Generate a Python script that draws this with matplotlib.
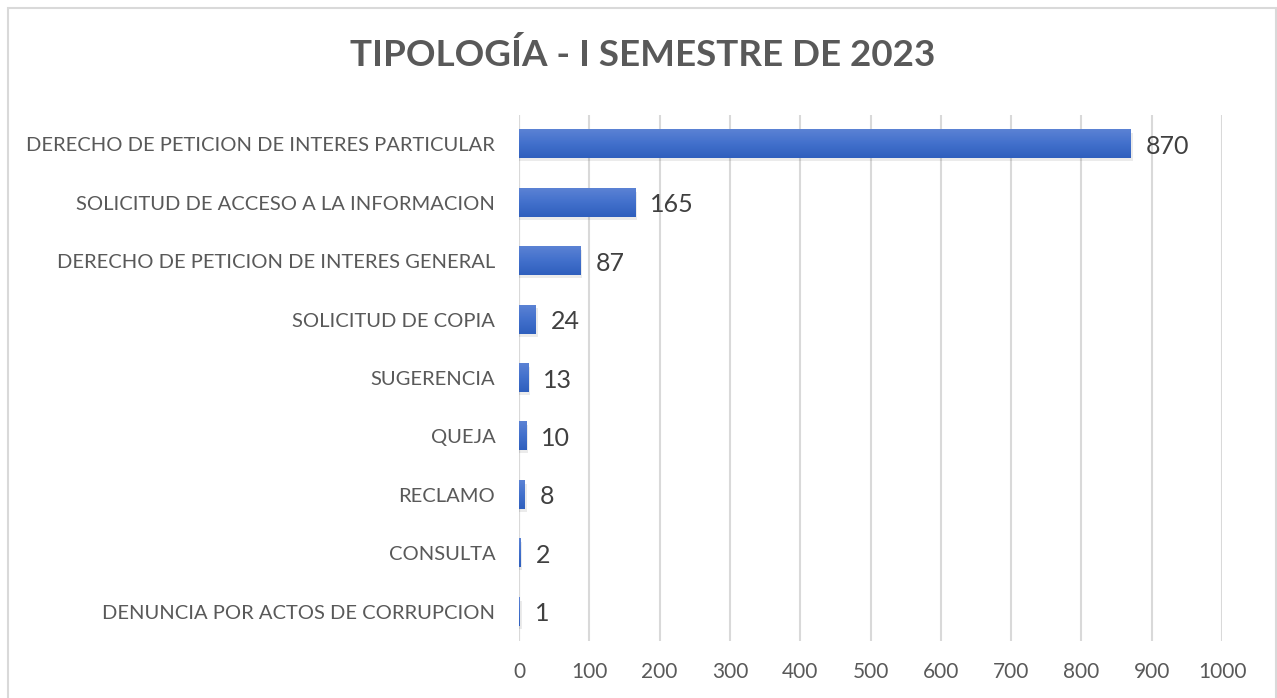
import matplotlib
matplotlib.use("Agg")
import matplotlib.pyplot as plt
import numpy as np
from matplotlib.colors import LinearSegmentedColormap
from matplotlib.patches import Rectangle

categories = [
    "DERECHO DE PETICION DE INTERES PARTICULAR",
    "SOLICITUD DE ACCESO A LA INFORMACION",
    "DERECHO DE PETICION DE INTERES GENERAL",
    "SOLICITUD DE COPIA",
    "SUGERENCIA",
    "QUEJA",
    "RECLAMO",
    "CONSULTA",
    "DENUNCIA POR ACTOS DE CORRUPCION",
]
values = [870, 165, 87, 24, 13, 10, 8, 2, 1]
xticks = list(range(0, 1001, 100))
title = "TIPOLOGÍA - I SEMESTRE DE 2023"

plt.rcParams['font.family'] = ['Lato', 'DejaVu Sans']

fig = plt.figure(figsize=(12.77, 6.98), dpi=100)
ax = fig.add_axes([0.4064, 0.0817, 0.5506, 0.7535])

# outer frame
fig.patches.append(Rectangle((8 / 1277, -0.01), 1268 / 1277, 1 - 8 / 698 + 0.01,
                             transform=fig.transFigure, fill=False,
                             edgecolor="#d9d9d9", linewidth=1.5))

n = len(categories)
ypos = np.arange(n)[::-1]
bar_h = 0.48

# gradient fill for the bars
cmap = LinearSegmentedColormap.from_list("bar", ["#2f5fbd", "#4270cc", "#5b82d4"])
grad = np.linspace(0, 1, 64).reshape(-1, 1)

bars = ax.barh(ypos, values, height=bar_h, color="none", edgecolor="none", zorder=3)
for b, v in zip(bars, values):
    y0 = b.get_y()
    # soft shadow
    ax.add_patch(Rectangle((0, y0 - 0.05), v + 3, bar_h, facecolor="#000000",
                           alpha=0.08, edgecolor="none", zorder=2))
    ax.imshow(grad, extent=(0, v, y0, y0 + bar_h), cmap=cmap, aspect="auto",
              origin="lower", zorder=3, interpolation="bilinear")
    ax.annotate(str(v), (v, y0 + bar_h / 2), xytext=(11, -1.5), textcoords="offset points",
                va="center", ha="left", fontsize=18, color="#404040")

ax.set_xlim(0, 1000)
ax.set_ylim(-0.5, n - 0.5)
ax.set_xticks(xticks)
ax.set_xticklabels([str(t) for t in xticks], fontsize=15, color="#595959")
ax.set_yticks(ypos)
ax.set_yticklabels(categories, fontsize=14.5, color="#595959")
ax.tick_params(axis="both", length=0)
ax.tick_params(axis="x", pad=15)
ax.tick_params(axis="y", pad=17)

ax.grid(axis="x", color="#d9d9d9", linewidth=1.5, zorder=0)
ax.set_axisbelow(True)
for s in ax.spines.values():
    s.set_visible(False)
ax.axvline(0, color="#d9d9d9", linewidth=1.5, zorder=1)

fig.text(643 / 1277, 1 - 55 / 698, title, ha="center", va="center",
         fontsize=26.5, fontweight="bold", color="#595959")

fig.savefig("out.png", dpi=100)
